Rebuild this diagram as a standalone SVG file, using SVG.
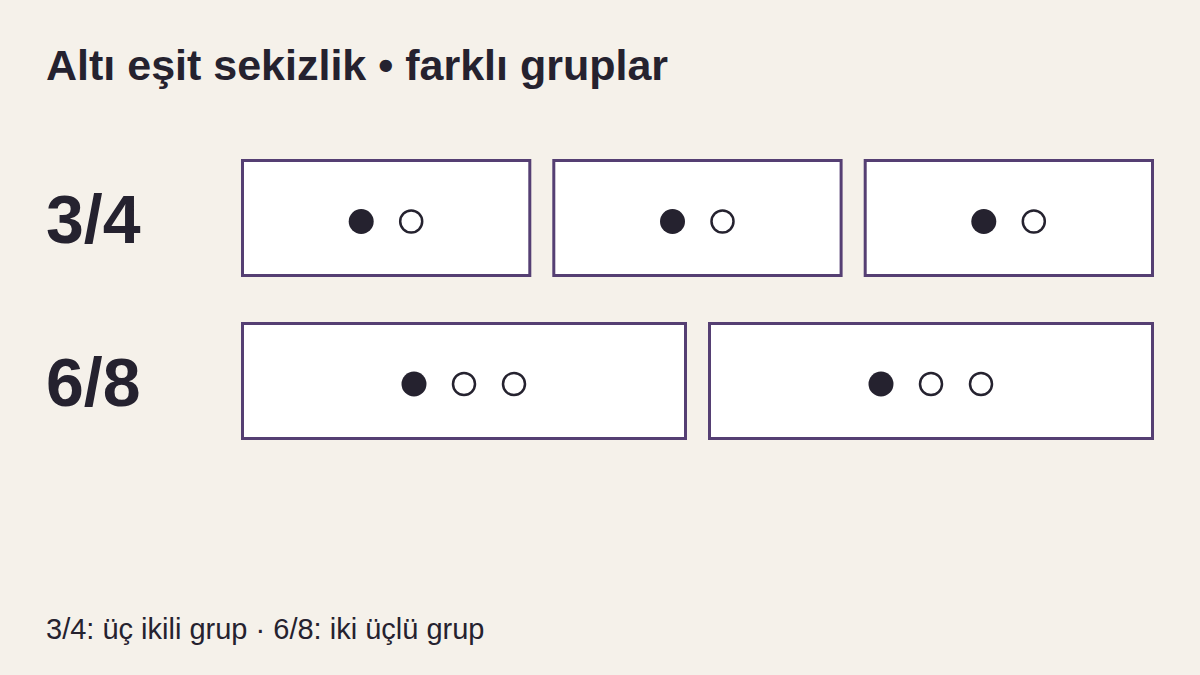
<svg xmlns="http://www.w3.org/2000/svg" width="1200" height="675" viewBox="0 0 1200 675">
<style>
.bg{fill:#f5f1ea}
.box{fill:#ffffff;stroke:#553f73;stroke-width:3}
.on{fill:#25222f}
.off{fill:#ffffff;stroke:#25222f;stroke-width:2.5}
.title{font-family:"Liberation Sans",Arial,sans-serif;font-weight:bold;font-size:43px;fill:#25222f}
.lbl{font-family:"Liberation Sans",Arial,sans-serif;font-weight:bold;font-size:68px;fill:#25222f}
.foot{font-family:"Liberation Sans",Arial,sans-serif;font-size:29px;fill:#25222f}
</style>
<rect class="bg" x="0" y="0" width="1200" height="675"/>
<text class="title" x="46" y="80">Altı eşit sekizlik • farklı gruplar</text>
<g id="label-34"><text class="lbl" x="46" y="243">3/4</text></g>
<g id="label-68"><text class="lbl" x="46" y="406">6/8</text></g>
<g id="row34-g1">
<rect class="box" x="242.5" y="160.5" width="287.3" height="115"/>
<circle class="on" cx="361.2" cy="221.5" r="12.5"/>
<circle class="off" cx="411.2" cy="221.5" r="11"/>
</g>
<g id="row34-g2">
<rect class="box" x="553.8" y="160.5" width="287.3" height="115"/>
<circle class="on" cx="672.5" cy="221.5" r="12.5"/>
<circle class="off" cx="722.5" cy="221.5" r="11"/>
</g>
<g id="row34-g3">
<rect class="box" x="865.2" y="160.5" width="287.3" height="115"/>
<circle class="on" cx="983.8" cy="221.5" r="12.5"/>
<circle class="off" cx="1033.8" cy="221.5" r="11"/>
</g>
<g id="row68-g1">
<rect class="box" x="242.5" y="323.5" width="443" height="115"/>
<circle class="on" cx="414" cy="384" r="12.5"/>
<circle class="off" cx="464" cy="384" r="11"/>
<circle class="off" cx="514" cy="384" r="11"/>
</g>
<g id="row68-g2">
<rect class="box" x="709.5" y="323.5" width="443" height="115"/>
<circle class="on" cx="881" cy="384" r="12.5"/>
<circle class="off" cx="931" cy="384" r="11"/>
<circle class="off" cx="981" cy="384" r="11"/>
</g>
<g id="connectors"></g>
<text class="foot" x="46" y="639">3/4: üç ikili grup · 6/8: iki üçlü grup</text>
</svg>
